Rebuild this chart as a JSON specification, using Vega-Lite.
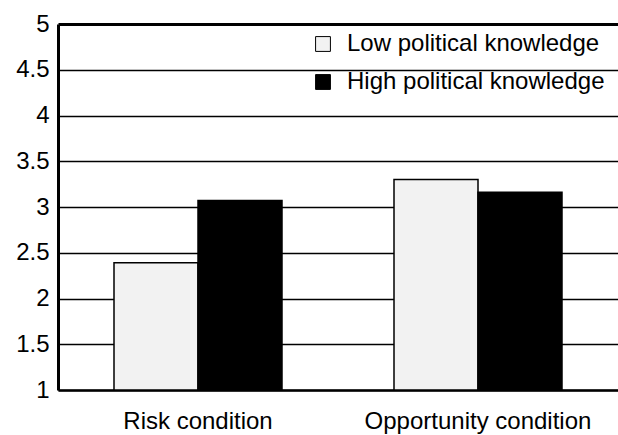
{
  "$schema": "https://vega.github.io/schema/vega-lite/v6.json",
  "autosize": "none",
  "width": 560,
  "height": 366,
  "padding": {"left": 58, "top": 24, "right": 0, "bottom": 45},
  "background": "white",
  "config": {
    "view": {"stroke": null},
    "font": "Liberation Sans"
  },
  "data": {
    "values": [
      {"condition": "Risk condition", "knowledge": "Low political knowledge", "value": 2.39},
      {"condition": "Risk condition", "knowledge": "High political knowledge", "value": 3.07},
      {"condition": "Opportunity condition", "knowledge": "Low political knowledge", "value": 3.3},
      {"condition": "Opportunity condition", "knowledge": "High political knowledge", "value": 3.16}
    ]
  },
  "mark": {"type": "bar", "stroke": "black", "strokeWidth": 1.5},
  "encoding": {
    "x": {
      "field": "condition",
      "type": "nominal",
      "sort": ["Risk condition", "Opportunity condition"],
      "scale": {"paddingInner": 0.4, "paddingOuter": 0.2},
      "axis": {
        "title": null,
        "labelAngle": 0,
        "labelFontSize": 24,
        "labelColor": "black",
        "labelPadding": 19,
        "labelLimit": 400,
        "ticks": false,
        "domainColor": "black",
        "domainWidth": 2.5
      }
    },
    "xOffset": {
      "field": "knowledge",
      "type": "nominal",
      "sort": ["Low political knowledge", "High political knowledge"]
    },
    "y": {
      "field": "value",
      "type": "quantitative",
      "scale": {"domain": [1, 5], "nice": false, "zero": false},
      "axis": {
        "title": null,
        "values": [1, 1.5, 2, 2.5, 3, 3.5, 4, 4.5, 5],
        "format": "~g",
        "labelFontSize": 24,
        "labelColor": "black",
        "labelPadding": 9,
        "ticks": false,
        "domainColor": "black",
        "domainWidth": 3,
        "grid": true,
        "gridColor": "black",
        "gridOpacity": 1,
        "gridWidth": {"condition": {"test": "datum.value === 5", "value": 3}, "value": 1.5}
      }
    },
    "y2": {"datum": 1},
    "fill": {
      "field": "knowledge",
      "type": "nominal",
      "scale": {
        "domain": ["Low political knowledge", "High political knowledge"],
        "range": ["#f2f2f2", "#000000"]
      },
      "legend": {
        "title": null,
        "orient": "none",
        "legendX": 249,
        "legendY": 4,
        "symbolType": "square",
        "symbolSize": 220,
        "symbolStrokeColor": "black",
        "symbolStrokeWidth": 1,
        "labelFontSize": 24,
        "labelColor": "black",
        "labelLimit": 400,
        "labelOffset": 12,
        "rowPadding": 14,
        "padding": 4
      }
    }
  }
}
